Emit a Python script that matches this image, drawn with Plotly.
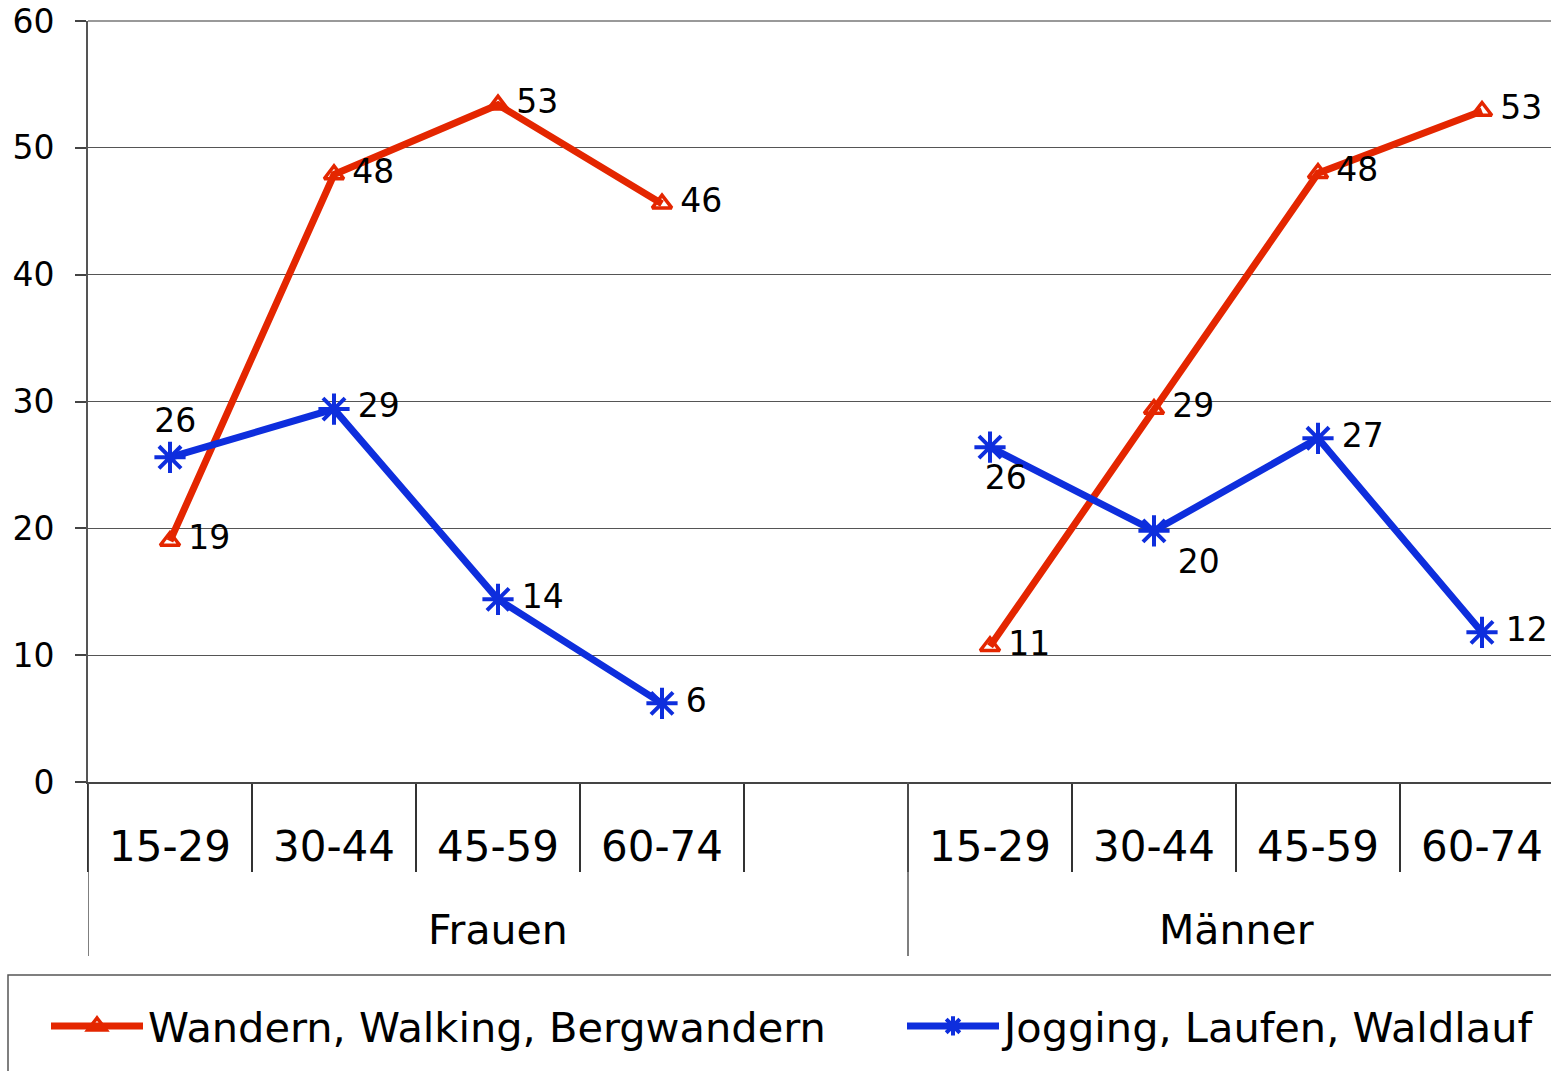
import plotly.graph_objects as go

# categories: two groups, Frauen has an empty slot at the end
groups = ["Frauen", "Männer"]
ages = ["15-29", "30-44", "45-59", "60-74"]
group_slots = [5, 4]  # number of category slots per group

wandern_frauen = [19.0, 47.9, 53.4, 45.6]
wandern_maenner = [10.7, 29.4, 48.0, 52.9]
jogging_frauen = [25.6, 29.4, 14.4, 6.2]
jogging_maenner = [26.4, 19.8, 27.1, 11.8]

name_wandern = "Wandern, Walking, Bergwandern"
name_jogging = "Jogging, Laufen, Waldlauf"

# slot positions of each category on the axis
starts = [0, group_slots[0]]

RED = "#E42600"
BLUE = "#0E2EDD"
FONT = "DejaVu Sans"

W, H = 1551, 1071
ML, MT, MB = 88, 21, 289
slot_px = 164
plot_w = W - ML
plot_h = H - MT - MB

NBSP, THIN = "\u00a0", "\u2009"

fig = go.Figure()


def add_series(x, y, name, legend, first, color, marker, positions, pads):
    fig.add_trace(go.Scatter(
        x=x, y=y, name=name, legendgroup=name, legend=legend, showlegend=first,
        mode="lines+markers+text",
        line=dict(color=color, width=7),
        marker=marker,
        text=[p + f"{v:.0f}" for p, v in zip(pads, y)],
        textposition=positions,
        textfont=dict(size=33, color="black", family=FONT),
        cliponaxis=False,
    ))


tri = dict(symbol="triangle-up-open", size=17, color=RED, line=dict(color=RED, width=3.5))
ast = dict(symbol="asterisk-open", size=26, color=BLUE, line=dict(color=BLUE, width=4))

label_style = [
    # (jogging positions, jogging pads) for Frauen, Männer
    (["top center", "middle right", "middle right", "middle right"],
     [NBSP, THIN, THIN, THIN]),
    (["bottom center", "bottom right", "middle right", "middle right"],
     [NBSP * 3, THIN, THIN, THIN]),
]

for gi, (data_w, data_j) in enumerate([(wandern_frauen, jogging_frauen),
                                       (wandern_maenner, jogging_maenner)]):
    x = [starts[gi] + i for i in range(len(ages))]
    add_series(x, data_w, name_wandern, "legend", gi == 0, RED, tri,
               "middle right", [THIN] * len(x))
    jpos, jpad = label_style[gi]
    add_series(x, data_j, name_jogging, "legend2", gi == 0, BLUE, ast, jpos, jpad)

# group separators and group labels
for g, s, n in zip(groups, starts, group_slots):
    fig.add_shape(type="line", xref="x", yref="paper",
                  x0=s - 0.5, x1=s - 0.5, y0=0, y1=-174 / plot_h,
                  line=dict(color="#555555", width=1.5))
    fig.add_annotation(text=g, xref="x", yref="paper", x=s + (n - 1) / 2,
                       y=-148 / plot_h, yanchor="middle", showarrow=False,
                       font=dict(size=41, color="black", family=FONT))

# plot area top border
fig.add_shape(type="line", xref="paper", yref="paper", x0=0, x1=1, y0=1, y1=1,
              line=dict(color="#999999", width=2))

# legend box
fig.add_shape(type="rect", xref="paper", yref="paper",
              x0=(8 - ML) / plot_w, x1=1.2, y0=-193 / plot_h, y1=-400 / plot_h,
              line=dict(color="#555555", width=1.5), fillcolor="rgba(0,0,0,0)")

leg = dict(orientation="h", xanchor="left", yanchor="middle", y=-244 / plot_h,
           font=dict(size=41.5, color="black", family=FONT),
           itemwidth=92, bgcolor="rgba(0,0,0,0)", borderwidth=0)

fig.update_layout(
    width=W, height=H,
    margin=dict(l=ML, r=0, t=MT, b=MB, autoexpand=False),
    plot_bgcolor="white", paper_bgcolor="white",
    font=dict(family=FONT, color="black"),
    showlegend=True,
    legend=dict(leg, x=(46 - ML) / plot_w),
    legend2=dict(leg, x=(902 - ML) / plot_w),
    xaxis=dict(
        range=[-0.5, -0.5 + plot_w / slot_px],
        tickmode="array",
        tickvals=[s + i for s in starts for i in range(len(ages))],
        ticktext=ages * len(groups),
        ticks="", ticklabelstandoff=27, automargin=False,
        tickfont=dict(size=42, color="black", family=FONT),
        showgrid=False, zeroline=False,
        showline=True, linecolor="#444444", linewidth=2,
        minor=dict(tickmode="linear", tick0=0.5, dtick=1, ticks="outside",
                   ticklen=88, tickcolor="#333333", tickwidth=1.5, showgrid=False),
    ),
    yaxis=dict(
        range=[0, 60], tickmode="linear", tick0=0, dtick=10,
        ticks="outside", ticklen=11, tickcolor="#444444", tickwidth=1.5,
        ticklabelstandoff=14, automargin=False,
        tickfont=dict(size=33, color="black", family=FONT),
        showgrid=True, gridcolor="#555555", gridwidth=1,
        zeroline=False, showline=True, linecolor="#555555", linewidth=2,
    ),
)

# drop the default page margin so the figure sits at the window's corner
fig.write_html("out.html", config=dict(displayModeBar=False),
               post_script="document.body.style.margin='0';")
